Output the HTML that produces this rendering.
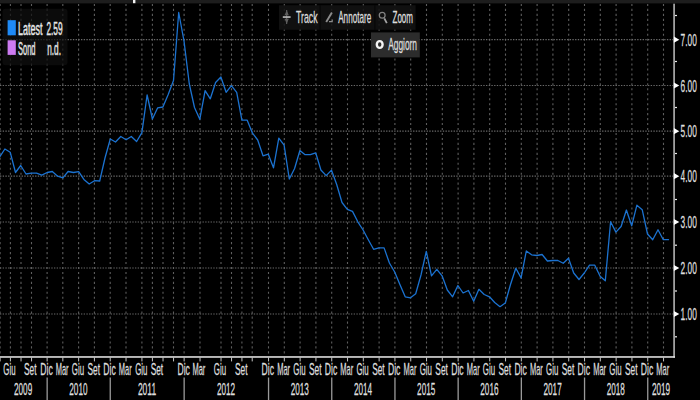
<!DOCTYPE html>
<html><head><meta charset="utf-8"><title>Chart</title>
<style>
html,body{margin:0;padding:0;background:#000;}
body{width:700px;height:400px;overflow:hidden;font-family:"Liberation Sans",sans-serif;}
svg{display:block;}
text{font-family:"Liberation Sans",sans-serif;fill:#e6e6e6;stroke:#e6e6e6;stroke-width:0.45px;}
text.ax{fill:#dedede;stroke:#dedede;stroke-width:0.28px;}
text.tb{fill:#dcdcdc;stroke:#dcdcdc;stroke-width:0.3px;}
</style></head><body>
<svg width="700" height="400" viewBox="0 0 700 400">
<rect x="0" y="0" width="700" height="400" fill="#000"/>
<rect x="0" y="0" width="700" height="3.4" fill="#1d1d1d"/>
<rect x="133" y="0" width="2.4" height="3.2" fill="#f4f4f4"/>
<g stroke="#5e5e5e" stroke-width="1.1" stroke-dasharray="2.1 2.863" fill="none">
<line x1="0.1" y1="3.9" x2="0.1" y2="356"/>
<line x1="10.4" y1="3.9" x2="10.4" y2="356"/>
<line x1="21.0" y1="3.9" x2="21.0" y2="356"/>
<line x1="31.5" y1="3.9" x2="31.5" y2="356"/>
<line x1="47.1" y1="3.9" x2="47.1" y2="356"/>
<line x1="62.8" y1="3.9" x2="62.8" y2="356"/>
<line x1="78.6" y1="3.9" x2="78.6" y2="356"/>
<line x1="94.4" y1="3.9" x2="94.4" y2="356"/>
<line x1="110.2" y1="3.9" x2="110.2" y2="356"/>
<line x1="126.0" y1="3.9" x2="126.0" y2="356"/>
<line x1="141.9" y1="3.9" x2="141.9" y2="356"/>
<line x1="152.4" y1="3.9" x2="152.4" y2="356"/>
<line x1="163.0" y1="3.9" x2="163.0" y2="356"/>
<line x1="173.5" y1="3.9" x2="173.5" y2="356"/>
<line x1="184.1" y1="3.9" x2="184.1" y2="356"/>
<line x1="200.0" y1="3.9" x2="200.0" y2="356"/>
<line x1="221.0" y1="3.9" x2="221.0" y2="356"/>
<line x1="231.5" y1="3.9" x2="231.5" y2="356"/>
<line x1="241.9" y1="3.9" x2="241.9" y2="356"/>
<line x1="252.2" y1="3.9" x2="252.2" y2="356"/>
<line x1="268.5" y1="3.9" x2="268.5" y2="356"/>
<line x1="284.3" y1="3.9" x2="284.3" y2="356"/>
<line x1="300.1" y1="3.9" x2="300.1" y2="356"/>
<line x1="315.9" y1="3.9" x2="315.9" y2="356"/>
<line x1="331.7" y1="3.9" x2="331.7" y2="356"/>
<line x1="347.5" y1="3.9" x2="347.5" y2="356"/>
<line x1="363.3" y1="3.9" x2="363.3" y2="356"/>
<line x1="379.1" y1="3.9" x2="379.1" y2="356"/>
<line x1="394.9" y1="3.9" x2="394.9" y2="356"/>
<line x1="410.7" y1="3.9" x2="410.7" y2="356"/>
<line x1="426.5" y1="3.9" x2="426.5" y2="356"/>
<line x1="442.3" y1="3.9" x2="442.3" y2="356"/>
<line x1="458.1" y1="3.9" x2="458.1" y2="356"/>
<line x1="473.9" y1="3.9" x2="473.9" y2="356"/>
<line x1="489.7" y1="3.9" x2="489.7" y2="356"/>
<line x1="505.5" y1="3.9" x2="505.5" y2="356"/>
<line x1="521.3" y1="3.9" x2="521.3" y2="356"/>
<line x1="537.1" y1="3.9" x2="537.1" y2="356"/>
<line x1="552.9" y1="3.9" x2="552.9" y2="356"/>
<line x1="568.7" y1="3.9" x2="568.7" y2="356"/>
<line x1="584.5" y1="3.9" x2="584.5" y2="356"/>
<line x1="600.3" y1="3.9" x2="600.3" y2="356"/>
<line x1="616.1" y1="3.9" x2="616.1" y2="356"/>
<line x1="631.9" y1="3.9" x2="631.9" y2="356"/>
<line x1="647.7" y1="3.9" x2="647.7" y2="356"/>
<line x1="663.5" y1="3.9" x2="663.5" y2="356"/>
</g>
<g stroke="#6a6a6a" stroke-width="1.2" stroke-dasharray="1.35 1.35" fill="none">
<line x1="0" y1="39.7" x2="673" y2="39.7"/>
<line x1="0" y1="85.5" x2="673" y2="85.5"/>
<line x1="0" y1="131.2" x2="673" y2="131.2"/>
<line x1="0" y1="176.2" x2="673" y2="176.2"/>
<line x1="0" y1="222.0" x2="673" y2="222.0"/>
<line x1="0" y1="268.0" x2="673" y2="268.0"/>
<line x1="0" y1="314.0" x2="673" y2="314.0"/>
</g>
<rect x="2.5" y="8.8" width="65" height="56.5" rx="3" ry="3" fill="#0f0f0f" fill-opacity="0.72"/>
<rect x="279" y="5.2" width="136.6" height="24.6" fill="#131313" fill-opacity="0.86"/>
<rect x="319.6" y="5.2" width="1" height="24.6" fill="#050505"/>
<rect x="374.4" y="5.2" width="1" height="24.6" fill="#050505"/>
<rect x="371" y="32.4" width="48.8" height="25" fill="#2c2c2c"/>
<ellipse cx="379.7" cy="44.5" rx="2.9" ry="3.4" fill="none" stroke="#f4f4f4" stroke-width="2.4"/>
<rect x="673.2" y="3.7" width="1.8" height="354" fill="#a0a0a0"/>
<rect x="0" y="356.2" width="675" height="1.55" fill="#e4e4e4"/>
<g fill="#bcbcbc">
<rect x="-0.4" y="357" width="1.05" height="4.4"/>
<rect x="9.9" y="357" width="1.05" height="4.4"/>
<rect x="20.5" y="357" width="1.05" height="4.4"/>
<rect x="31.0" y="357" width="1.05" height="4.4"/>
<rect x="46.6" y="357" width="1.05" height="4.4"/>
<rect x="62.3" y="357" width="1.05" height="4.4"/>
<rect x="78.1" y="357" width="1.05" height="4.4"/>
<rect x="93.9" y="357" width="1.05" height="4.4"/>
<rect x="109.7" y="357" width="1.05" height="4.4"/>
<rect x="125.5" y="357" width="1.05" height="4.4"/>
<rect x="141.4" y="357" width="1.05" height="4.4"/>
<rect x="151.9" y="357" width="1.05" height="4.4"/>
<rect x="162.5" y="357" width="1.05" height="4.4"/>
<rect x="173.0" y="357" width="1.05" height="4.4"/>
<rect x="183.6" y="357" width="1.05" height="4.4"/>
<rect x="199.5" y="357" width="1.05" height="4.4"/>
<rect x="220.5" y="357" width="1.05" height="4.4"/>
<rect x="231.0" y="357" width="1.05" height="4.4"/>
<rect x="241.4" y="357" width="1.05" height="4.4"/>
<rect x="251.7" y="357" width="1.05" height="4.4"/>
<rect x="268.0" y="357" width="1.05" height="4.4"/>
<rect x="283.8" y="357" width="1.05" height="4.4"/>
<rect x="299.6" y="357" width="1.05" height="4.4"/>
<rect x="315.4" y="357" width="1.05" height="4.4"/>
<rect x="331.2" y="357" width="1.05" height="4.4"/>
<rect x="347.0" y="357" width="1.05" height="4.4"/>
<rect x="362.8" y="357" width="1.05" height="4.4"/>
<rect x="378.6" y="357" width="1.05" height="4.4"/>
<rect x="394.4" y="357" width="1.05" height="4.4"/>
<rect x="410.2" y="357" width="1.05" height="4.4"/>
<rect x="426.0" y="357" width="1.05" height="4.4"/>
<rect x="441.8" y="357" width="1.05" height="4.4"/>
<rect x="457.6" y="357" width="1.05" height="4.4"/>
<rect x="473.4" y="357" width="1.05" height="4.4"/>
<rect x="489.2" y="357" width="1.05" height="4.4"/>
<rect x="505.0" y="357" width="1.05" height="4.4"/>
<rect x="520.8" y="357" width="1.05" height="4.4"/>
<rect x="536.6" y="357" width="1.05" height="4.4"/>
<rect x="552.4" y="357" width="1.05" height="4.4"/>
<rect x="568.2" y="357" width="1.05" height="4.4"/>
<rect x="584.0" y="357" width="1.05" height="4.4"/>
<rect x="599.8" y="357" width="1.05" height="4.4"/>
<rect x="615.6" y="357" width="1.05" height="4.4"/>
<rect x="631.4" y="357" width="1.05" height="4.4"/>
<rect x="647.2" y="357" width="1.05" height="4.4"/>
<rect x="663.0" y="357" width="1.05" height="4.4"/>
</g>
<g fill="#e8e8e8">
<rect x="675" y="14.9" width="2" height="1.2"/>
<rect x="675" y="60.9" width="2" height="1.2"/>
<rect x="675" y="106.9" width="2" height="1.2"/>
<rect x="675" y="152.9" width="2" height="1.2"/>
<rect x="675" y="198.9" width="2" height="1.2"/>
<rect x="675" y="244.6" width="2" height="1.2"/>
<rect x="675" y="290.4" width="2" height="1.2"/>
<rect x="675" y="336.2" width="2" height="1.2"/>
<path d="M673.9 36.6 L679.3 39.7 L673.9 42.8 Z" fill="#fff"/>
<path d="M673.9 82.4 L679.3 85.5 L673.9 88.6 Z" fill="#fff"/>
<path d="M673.9 128.1 L679.3 131.2 L673.9 134.3 Z" fill="#fff"/>
<path d="M673.9 173.1 L679.3 176.2 L673.9 179.3 Z" fill="#fff"/>
<path d="M673.9 218.9 L679.3 222.0 L673.9 225.1 Z" fill="#fff"/>
<path d="M673.9 264.9 L679.3 268.0 L673.9 271.1 Z" fill="#fff"/>
<path d="M673.9 310.9 L679.3 314.0 L673.9 317.1 Z" fill="#fff"/>
</g>
<g fill="#9a9a9a">
<rect x="46.5" y="377.5" width="1.3" height="22.5"/>
<rect x="109.6" y="377.5" width="1.3" height="22.5"/>
<rect x="183.5" y="377.5" width="1.3" height="22.5"/>
<rect x="267.9" y="377.5" width="1.3" height="22.5"/>
<rect x="331.1" y="377.5" width="1.3" height="22.5"/>
<rect x="394.3" y="377.5" width="1.3" height="22.5"/>
<rect x="457.5" y="377.5" width="1.3" height="22.5"/>
<rect x="520.7" y="377.5" width="1.3" height="22.5"/>
<rect x="583.9" y="377.5" width="1.3" height="22.5"/>
<rect x="647.1" y="377.5" width="1.3" height="22.5"/>
</g>
<polyline points="-0.3,156.8 4.9,149.0 10.2,152.2 15.5,172.5 20.7,165.5 26.0,174.0 31.3,173.2 36.5,173.2 41.8,175.2 47.1,172.5 52.3,171.5 57.6,176.2 62.9,177.8 68.1,171.5 73.4,172.5 78.7,171.6 83.9,179.4 89.2,184.0 94.5,180.7 99.7,181.0 105.0,158.0 110.3,139.0 115.5,142.0 120.8,136.5 126.1,139.8 131.3,136.5 136.6,141.5 141.9,132.7 147.1,95.0 152.4,119.0 157.7,107.8 162.9,107.0 168.2,94.5 173.5,80.5 178.7,12.5 184.0,41.0 189.3,84.0 194.5,107.5 199.8,119.3 205.1,90.7 210.3,98.8 215.6,82.5 220.9,77.0 226.1,92.3 231.4,85.7 236.7,92.3 241.9,120.2 247.2,120.2 252.5,133.2 257.7,140.0 263.0,155.8 268.3,154.2 273.5,167.8 278.8,138.2 284.1,145.2 289.3,179.0 294.6,168.5 299.9,150.5 305.1,154.7 310.4,154.7 315.7,152.8 320.9,170.0 326.2,175.6 331.5,170.1 336.7,184.5 342.0,202.5 347.3,209.3 352.5,211.4 357.8,221.8 363.1,230.0 368.3,239.8 373.6,249.3 378.9,247.8 384.1,247.9 389.4,263.0 394.7,272.0 399.9,284.5 405.2,296.8 410.5,297.8 415.7,293.8 421.0,275.0 426.3,251.3 431.5,275.8 436.8,269.3 442.1,275.8 447.3,290.0 452.6,296.8 457.9,285.5 463.1,293.0 468.4,290.5 473.7,301.3 478.9,289.3 484.2,294.5 489.5,296.8 494.7,302.5 500.0,306.7 505.3,303.0 510.5,284.5 515.8,268.3 521.1,277.9 526.3,251.0 531.6,254.8 536.9,255.5 542.1,254.5 547.4,261.0 552.7,260.5 557.9,260.5 563.2,263.3 568.5,258.2 573.7,273.0 579.0,279.5 584.3,273.0 589.5,265.2 594.8,265.2 600.1,276.2 605.3,280.7 610.6,221.7 615.9,232.1 621.1,226.5 626.4,210.0 631.7,225.8 636.9,205.2 642.2,209.7 647.5,234.0 652.7,239.7 658.0,229.8 663.3,239.7 668.5,239.7" fill="none" stroke="#1b72d0" stroke-width="1.3" stroke-linejoin="round" stroke-linecap="round"/>
<text class="ax" x="680.5" y="45.9" font-size="17.0" text-anchor="start" textLength="16.3" lengthAdjust="spacingAndGlyphs">7.00</text>
<text class="ax" x="680.5" y="91.7" font-size="17.0" text-anchor="start" textLength="16.3" lengthAdjust="spacingAndGlyphs">6.00</text>
<text class="ax" x="680.5" y="137.4" font-size="17.0" text-anchor="start" textLength="16.3" lengthAdjust="spacingAndGlyphs">5.00</text>
<text class="ax" x="680.5" y="182.4" font-size="17.0" text-anchor="start" textLength="16.3" lengthAdjust="spacingAndGlyphs">4.00</text>
<text class="ax" x="680.5" y="228.2" font-size="17.0" text-anchor="start" textLength="16.3" lengthAdjust="spacingAndGlyphs">3.00</text>
<text class="ax" x="680.5" y="274.2" font-size="17.0" text-anchor="start" textLength="16.3" lengthAdjust="spacingAndGlyphs">2.00</text>
<text class="ax" x="680.5" y="320.2" font-size="17.0" text-anchor="start" textLength="16.3" lengthAdjust="spacingAndGlyphs">1.00</text>
<text class="ax" x="9.5" y="374.5" font-size="16.9" text-anchor="middle" textLength="12.3" lengthAdjust="spacingAndGlyphs">Giu</text>
<text class="ax" x="30.3" y="374.5" font-size="16.9" text-anchor="middle" textLength="12.5" lengthAdjust="spacingAndGlyphs">Set</text>
<text class="ax" x="46.5" y="374.5" font-size="16.9" text-anchor="middle" textLength="12.4" lengthAdjust="spacingAndGlyphs">Dic</text>
<text class="ax" x="62.1" y="374.5" font-size="16.9" text-anchor="middle" textLength="12.9" lengthAdjust="spacingAndGlyphs">Mar</text>
<text class="ax" x="77.9" y="374.5" font-size="16.9" text-anchor="middle" textLength="12.3" lengthAdjust="spacingAndGlyphs">Giu</text>
<text class="ax" x="93.7" y="374.5" font-size="16.9" text-anchor="middle" textLength="12.5" lengthAdjust="spacingAndGlyphs">Set</text>
<text class="ax" x="109.5" y="374.5" font-size="16.9" text-anchor="middle" textLength="12.4" lengthAdjust="spacingAndGlyphs">Dic</text>
<text class="ax" x="125.3" y="374.5" font-size="16.9" text-anchor="middle" textLength="12.9" lengthAdjust="spacingAndGlyphs">Mar</text>
<text class="ax" x="141.3" y="374.5" font-size="16.9" text-anchor="middle" textLength="12.3" lengthAdjust="spacingAndGlyphs">Giu</text>
<text class="ax" x="156.9" y="374.5" font-size="16.9" text-anchor="middle" textLength="12.5" lengthAdjust="spacingAndGlyphs">Set</text>
<text class="ax" x="183.7" y="374.5" font-size="16.9" text-anchor="middle" textLength="12.4" lengthAdjust="spacingAndGlyphs">Dic</text>
<text class="ax" x="198.9" y="374.5" font-size="16.9" text-anchor="middle" textLength="12.9" lengthAdjust="spacingAndGlyphs">Mar</text>
<text class="ax" x="220.0" y="374.5" font-size="16.9" text-anchor="middle" textLength="12.3" lengthAdjust="spacingAndGlyphs">Giu</text>
<text class="ax" x="241.3" y="374.5" font-size="16.9" text-anchor="middle" textLength="12.5" lengthAdjust="spacingAndGlyphs">Set</text>
<text class="ax" x="267.8" y="374.5" font-size="16.9" text-anchor="middle" textLength="12.4" lengthAdjust="spacingAndGlyphs">Dic</text>
<text class="ax" x="283.6" y="374.5" font-size="16.9" text-anchor="middle" textLength="12.9" lengthAdjust="spacingAndGlyphs">Mar</text>
<text class="ax" x="299.4" y="374.5" font-size="16.9" text-anchor="middle" textLength="12.3" lengthAdjust="spacingAndGlyphs">Giu</text>
<text class="ax" x="315.2" y="374.5" font-size="16.9" text-anchor="middle" textLength="12.5" lengthAdjust="spacingAndGlyphs">Set</text>
<text class="ax" x="331.0" y="374.5" font-size="16.9" text-anchor="middle" textLength="12.4" lengthAdjust="spacingAndGlyphs">Dic</text>
<text class="ax" x="346.8" y="374.5" font-size="16.9" text-anchor="middle" textLength="12.9" lengthAdjust="spacingAndGlyphs">Mar</text>
<text class="ax" x="362.6" y="374.5" font-size="16.9" text-anchor="middle" textLength="12.3" lengthAdjust="spacingAndGlyphs">Giu</text>
<text class="ax" x="378.4" y="374.5" font-size="16.9" text-anchor="middle" textLength="12.5" lengthAdjust="spacingAndGlyphs">Set</text>
<text class="ax" x="394.2" y="374.5" font-size="16.9" text-anchor="middle" textLength="12.4" lengthAdjust="spacingAndGlyphs">Dic</text>
<text class="ax" x="410.0" y="374.5" font-size="16.9" text-anchor="middle" textLength="12.9" lengthAdjust="spacingAndGlyphs">Mar</text>
<text class="ax" x="425.8" y="374.5" font-size="16.9" text-anchor="middle" textLength="12.3" lengthAdjust="spacingAndGlyphs">Giu</text>
<text class="ax" x="441.6" y="374.5" font-size="16.9" text-anchor="middle" textLength="12.5" lengthAdjust="spacingAndGlyphs">Set</text>
<text class="ax" x="457.4" y="374.5" font-size="16.9" text-anchor="middle" textLength="12.4" lengthAdjust="spacingAndGlyphs">Dic</text>
<text class="ax" x="473.2" y="374.5" font-size="16.9" text-anchor="middle" textLength="12.9" lengthAdjust="spacingAndGlyphs">Mar</text>
<text class="ax" x="489.0" y="374.5" font-size="16.9" text-anchor="middle" textLength="12.3" lengthAdjust="spacingAndGlyphs">Giu</text>
<text class="ax" x="504.8" y="374.5" font-size="16.9" text-anchor="middle" textLength="12.5" lengthAdjust="spacingAndGlyphs">Set</text>
<text class="ax" x="520.6" y="374.5" font-size="16.9" text-anchor="middle" textLength="12.4" lengthAdjust="spacingAndGlyphs">Dic</text>
<text class="ax" x="536.4" y="374.5" font-size="16.9" text-anchor="middle" textLength="12.9" lengthAdjust="spacingAndGlyphs">Mar</text>
<text class="ax" x="552.2" y="374.5" font-size="16.9" text-anchor="middle" textLength="12.3" lengthAdjust="spacingAndGlyphs">Giu</text>
<text class="ax" x="568.0" y="374.5" font-size="16.9" text-anchor="middle" textLength="12.5" lengthAdjust="spacingAndGlyphs">Set</text>
<text class="ax" x="583.8" y="374.5" font-size="16.9" text-anchor="middle" textLength="12.4" lengthAdjust="spacingAndGlyphs">Dic</text>
<text class="ax" x="599.6" y="374.5" font-size="16.9" text-anchor="middle" textLength="12.9" lengthAdjust="spacingAndGlyphs">Mar</text>
<text class="ax" x="615.4" y="374.5" font-size="16.9" text-anchor="middle" textLength="12.3" lengthAdjust="spacingAndGlyphs">Giu</text>
<text class="ax" x="631.2" y="374.5" font-size="16.9" text-anchor="middle" textLength="12.5" lengthAdjust="spacingAndGlyphs">Set</text>
<text class="ax" x="647.0" y="374.5" font-size="16.9" text-anchor="middle" textLength="12.4" lengthAdjust="spacingAndGlyphs">Dic</text>
<text class="ax" x="662.8" y="374.5" font-size="16.9" text-anchor="middle" textLength="12.9" lengthAdjust="spacingAndGlyphs">Mar</text>
<text class="ax" x="23.1" y="395.1" font-size="16.9" text-anchor="middle" textLength="18.2" lengthAdjust="spacingAndGlyphs">2009</text>
<text class="ax" x="78.4" y="395.1" font-size="16.9" text-anchor="middle" textLength="18.2" lengthAdjust="spacingAndGlyphs">2010</text>
<text class="ax" x="147.0" y="395.1" font-size="16.9" text-anchor="middle" textLength="18.2" lengthAdjust="spacingAndGlyphs">2011</text>
<text class="ax" x="226.0" y="395.1" font-size="16.9" text-anchor="middle" textLength="18.2" lengthAdjust="spacingAndGlyphs">2012</text>
<text class="ax" x="299.8" y="395.1" font-size="16.9" text-anchor="middle" textLength="18.2" lengthAdjust="spacingAndGlyphs">2013</text>
<text class="ax" x="363.0" y="395.1" font-size="16.9" text-anchor="middle" textLength="18.2" lengthAdjust="spacingAndGlyphs">2014</text>
<text class="ax" x="426.2" y="395.1" font-size="16.9" text-anchor="middle" textLength="18.2" lengthAdjust="spacingAndGlyphs">2015</text>
<text class="ax" x="489.4" y="395.1" font-size="16.9" text-anchor="middle" textLength="18.2" lengthAdjust="spacingAndGlyphs">2016</text>
<text class="ax" x="552.6" y="395.1" font-size="16.9" text-anchor="middle" textLength="18.2" lengthAdjust="spacingAndGlyphs">2017</text>
<text class="ax" x="615.8" y="395.1" font-size="16.9" text-anchor="middle" textLength="18.2" lengthAdjust="spacingAndGlyphs">2018</text>
<text class="ax" x="661.0" y="395.1" font-size="16.9" text-anchor="middle" textLength="18.2" lengthAdjust="spacingAndGlyphs">2019</text>
<rect x="7.6" y="20.2" width="8.2" height="15.1" fill="#1e8af6"/>
<rect x="7.6" y="40.3" width="8.2" height="14.6" fill="#cd7bf2"/>
<text x="18.0" y="35.4" font-size="17.6" text-anchor="start" textLength="24.4" lengthAdjust="spacingAndGlyphs">Latest</text>
<text x="46.4" y="35.4" font-size="17.6" text-anchor="start" textLength="16.2" lengthAdjust="spacingAndGlyphs">2.59</text>
<text x="18.0" y="55.0" font-size="17.6" text-anchor="start" textLength="17.5" lengthAdjust="spacingAndGlyphs">Sond</text>
<text x="47.2" y="55.0" font-size="17.6" text-anchor="start" textLength="13.8" lengthAdjust="spacingAndGlyphs">n.d.</text>
<text class="tb" x="296.0" y="22.8" font-size="16.2" text-anchor="start" textLength="21.5" lengthAdjust="spacingAndGlyphs">Track</text>
<text class="tb" x="338.2" y="22.8" font-size="16.2" text-anchor="start" textLength="33.0" lengthAdjust="spacingAndGlyphs">Annotare</text>
<text class="tb" x="392.5" y="22.8" font-size="16.2" text-anchor="start" textLength="20.5" lengthAdjust="spacingAndGlyphs">Zoom</text>
<text class="tb" x="388.2" y="50.0" font-size="16.0" text-anchor="start" textLength="28.8" lengthAdjust="spacingAndGlyphs">Aggiorn</text>
<g><rect x="286.2" y="10" width="1" height="14" fill="#6e6e6e"/><path d="M286.7 10.2 L288.8 15.3 L284.6 15.3 Z M286.7 23.8 L288.8 18.7 L284.6 18.7 Z" fill="#5e5e5e"/><rect x="282.8" y="16.2" width="7.8" height="1.7" fill="#b4b4b4"/></g>
<g fill="none"><line x1="326.2" y1="22" x2="331.9" y2="12.5" stroke="#8c8c8c" stroke-width="1.9"/><path d="M329 21.6 L332.2 21.6 L332.2 19.4" stroke="#8c8c8c" stroke-width="1.2"/></g>
<g fill="none"><circle cx="382.2" cy="15.2" r="2.9" stroke="#828282" stroke-width="1.25"/><line x1="384.3" y1="18.4" x2="386.8" y2="23.2" stroke="#a4a4a4" stroke-width="1.8"/></g>
</svg>
</body></html>
